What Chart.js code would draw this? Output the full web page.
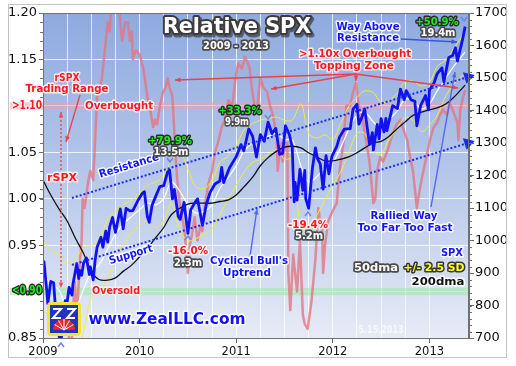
<!DOCTYPE html>
<html>
<head>
<meta charset="utf-8">
<script src="https://cdn.jsdelivr.net/npm/chart.js@4/dist/chart.umd.min.js"></script>
<style>
  html, body { margin: 0; padding: 0; background: #fff; }
  #wrap { width: 516px; height: 366px; }
</style>
</head>
<body>
<div id="wrap"><canvas id="chart" width="516" height="366"></canvas></div>
<script>
// SPX closes (right axis), dates as decimal years
const spxT = [2009.00,2009.01,2009.04,2009.05,2009.08,2009.11,2009.13,2009.15,2009.17,2009.185,2009.21,2009.23,2009.24,2009.27,2009.30,2009.31,2009.35,2009.37,2009.38,2009.40,2009.42,2009.45,2009.48,2009.49,2009.52,2009.54,2009.56,2009.60,2009.62,2009.65,2009.67,2009.69,2009.72,2009.75,2009.80,2009.83,2009.86,2009.90,2009.93,2009.99,
  2010.03,2010.05,2010.08,2010.10,2010.13,2010.17,2010.21,2010.25,2010.29,2010.31,2010.34,2010.36,2010.40,2010.42,2010.46,2010.50,2010.53,2010.57,2010.60,2010.65,2010.69,2010.73,2010.78,2010.83,2010.85,2010.87,2010.93,2011.00,
  2011.05,2011.08,2011.13,2011.17,2011.21,2011.25,2011.29,2011.33,2011.37,2011.41,2011.45,2011.48,2011.51,2011.55,2011.58,2011.60,2011.61,2011.63,2011.66,2011.69,2011.71,2011.72,2011.75,2011.79,2011.82,2011.84,2011.87,2011.90,2011.93,2011.96,2011.99,
  2012.04,2012.07,2012.12,2012.18,2012.21,2012.25,2012.27,2012.30,2012.33,2012.38,2012.41,2012.42,2012.46,2012.48,2012.50,2012.53,2012.55,2012.56,2012.62,2012.67,2012.70,2012.74,2012.76,2012.81,2012.85,2012.87,2012.91,2012.96,2012.99,
  2013.00,2013.05,2013.08,2013.13,2013.15,2013.20,2013.24,2013.27,2013.29,2013.34,2013.37];
const spx = [931,935,842,805,874,870,789,743,700,677,778,815,787,856,832,866,929,883,908,893,931,946,895,919,879,940,979,1010,979,1029,995,1042,1071,1025,1097,1036,1099,1091,1092,1127,
  1146,1150,1074,1056,1109,1138,1166,1169,1211,1217,1128,1157,1074,1065,1117,1022,1095,1115,1128,1047,1110,1148,1174,1183,1225,1178,1223,1258,
  1295,1276,1343,1321,1257,1326,1305,1364,1329,1345,1265,1268,1353,1326,1287,1119,1179,1124,1219,1154,1216,1129,1099,1224,1285,1253,1236,1158,1261,1205,1258,
  1289,1318,1343,1344,1404,1419,1358,1378,1405,1295,1332,1278,1357,1313,1375,1334,1376,1338,1415,1406,1466,1433,1461,1433,1428,1353,1416,1446,1402,
  1462,1486,1513,1531,1488,1563,1569,1593,1552,1614,1658];

// rSPX = SPX relative to its 200dma (left axis)
const rspxT = [2009.00,2009.07,2009.12,2009.19,2009.24,2009.26,2009.28,2009.30,2009.32,2009.33,2009.35,2009.36,2009.38,2009.40,2009.41,2009.43,2009.47,2009.49,2009.52,2009.56,2009.59,2009.61,2009.64,2009.67,2009.69,2009.71,2009.75,2009.78,2009.80,2009.82,2009.85,2009.88,2009.90,2009.92,2009.93,2009.96,
  2010.00,2010.04,2010.06,2010.08,2010.11,2010.14,2010.16,2010.18,2010.21,2010.24,2010.27,2010.29,2010.31,2010.34,2010.35,2010.37,2010.39,2010.42,2010.45,2010.47,2010.50,2010.52,2010.54,2010.57,2010.60,2010.63,2010.65,2010.68,2010.71,2010.75,2010.78,2010.81,2010.85,2010.88,2010.92,2010.96,2010.99,
  2011.02,2011.06,2011.09,2011.12,2011.14,2011.16,2011.19,2011.22,2011.25,2011.28,2011.32,2011.35,2011.38,2011.42,2011.43,2011.45,2011.47,2011.48,2011.51,2011.53,2011.54,2011.56,2011.59,2011.63,2011.66,2011.69,2011.71,2011.74,2011.78,2011.82,2011.84,2011.85,2011.87,2011.89,2011.90,2011.92,2011.95,2011.99,
  2012.04,2012.07,2012.11,2012.14,2012.18,2012.21,2012.24,2012.27,2012.31,2012.34,2012.38,2012.42,2012.44,2012.46,2012.49,2012.52,2012.56,2012.59,2012.62,2012.66,2012.70,2012.73,2012.77,2012.80,2012.83,2012.85,2012.87,2012.90,2012.93,2012.98,
  2013.01,2013.04,2013.08,2013.11,2013.14,2013.18,2013.21,2013.24,2013.29,2013.30,2013.32,2013.35,2013.37];
const rspx = [0.78,0.74,0.72,0.66,0.80,0.84,0.87,0.85,0.90,0.91,0.87,0.89,0.93,0.955,1.00,0.99,1.02,1.03,1.02,1.11,1.12,1.13,1.16,1.19,1.18,1.21,1.22,1.21,1.19,1.17,1.19,1.19,1.17,1.18,1.15,1.16,
  1.155,1.14,1.125,1.11,1.096,1.077,1.085,1.08,1.10,1.114,1.12,1.13,1.12,1.11,1.09,1.05,1.02,0.99,0.975,0.96,0.92,0.95,0.96,0.98,0.955,0.97,0.965,0.995,1.015,1.03,1.05,1.06,1.077,1.085,1.106,1.10,1.128,
  1.146,1.14,1.153,1.146,1.14,1.12,1.10,1.10,1.13,1.12,1.115,1.10,1.09,1.066,1.03,1.05,1.06,1.04,1.06,1.06,0.92,0.88,0.94,0.90,0.955,0.875,0.865,0.86,0.89,0.935,0.97,0.99,0.975,0.965,0.92,0.95,0.975,0.985,
  0.995,1.03,1.06,1.10,1.10,1.115,1.125,1.10,1.085,1.065,1.04,0.995,1.00,1.03,1.045,1.04,1.05,1.06,1.07,1.08,1.085,1.075,1.063,1.045,1.03,1.01,0.99,1.01,1.026,1.05,
  1.065,1.076,1.082,1.09,1.096,1.09,1.103,1.096,1.082,1.063,1.096,1.11,1.117];

// monthly moving averages and +/- 2.5 SD bands (right axis)
const maT = [2009.00,2009.08,2009.17,2009.25,2009.33,2009.42,2009.50,2009.58,2009.67,2009.75,2009.83,2009.92,
  2010.00,2010.08,2010.17,2010.25,2010.33,2010.42,2010.50,2010.58,2010.67,2010.75,2010.83,2010.92,
  2011.00,2011.08,2011.17,2011.25,2011.33,2011.42,2011.50,2011.58,2011.67,2011.75,2011.83,2011.92,
  2012.00,2012.08,2012.17,2012.25,2012.33,2012.42,2012.50,2012.58,2012.67,2012.75,2012.83,2012.92,
  2013.00,2013.08,2013.17,2013.25,2013.33,2013.37];
const dma50 = [890,870,845,790,790,850,905,925,975,1020,1050,1075,
  1095,1115,1110,1130,1180,1150,1110,1085,1090,1110,1160,1195,
  1230,1275,1300,1310,1320,1330,1310,1310,1230,1180,1195,1225,
  1240,1285,1345,1385,1395,1365,1345,1370,1400,1435,1430,1405,
  1420,1460,1500,1535,1565,1580];
const dma200 = [1186,1140,1095,1060,1010,960,905,880,878,885,905,925,
  950,975,1010,1040,1080,1100,1112,1115,1115,1115,1120,1125,
  1140,1165,1195,1230,1255,1275,1287,1290,1285,1270,1258,1245,
  1245,1250,1258,1270,1285,1300,1305,1320,1345,1365,1385,1395,
  1402,1408,1420,1440,1465,1478];
const sdUpper = [1000,970,955,930,940,980,985,1005,1065,1090,1110,1125,
  1145,1170,1180,1200,1245,1270,1220,1165,1160,1185,1240,1260,
  1290,1340,1360,1370,1375,1380,1370,1370,1420,1330,1315,1325,
  1310,1360,1415,1440,1460,1455,1425,1430,1455,1490,1490,1475,
  1485,1535,1555,1590,1625,1650];
const sdLower = [780,770,735,650,640,720,825,845,885,950,990,1025,
  1045,1060,1040,1060,1115,1030,1000,1005,1020,1035,1080,1130,
  1170,1210,1240,1250,1265,1280,1250,1250,1040,1030,1075,1125,
  1170,1210,1275,1330,1330,1275,1265,1310,1345,1380,1370,1335,
  1355,1385,1445,1480,1505,1510];

// trend channel
const trendT = [2009.30, 2013.40];
const resistance = [1131, 1503];
const support = [925, 1300];

const pts = (xs, ys) => xs.map((x, i) => ({x: x, y: ys[i]}));
const isYear = v => Math.abs(v - Math.round(v)) < 1e-6;
const FONT = '"DejaVu Sans", Verdana, sans-serif';

function arrow(ctx, x1, y1, x2, y2, color, lw, dash, both) {
  ctx.save();
  ctx.strokeStyle = color; ctx.fillStyle = color; ctx.lineWidth = lw;
  if (dash) ctx.setLineDash(dash);
  ctx.beginPath(); ctx.moveTo(x1, y1); ctx.lineTo(x2, y2); ctx.stroke();
  ctx.setLineDash([]);
  const head = (ax, ay, bx, by) => {
    const a = Math.atan2(by - ay, bx - ax), h = 6;
    ctx.beginPath();
    ctx.moveTo(bx, by);
    ctx.lineTo(bx - h * Math.cos(a - 0.4), by - h * Math.sin(a - 0.4));
    ctx.lineTo(bx - h * Math.cos(a + 0.4), by - h * Math.sin(a + 0.4));
    ctx.closePath(); ctx.fill();
  };
  head(x1, y1, x2, y2);
  if (both) head(x2, y2, x1, y1);
  ctx.restore();
}

function chevron(ctx, x, y, up) {
  ctx.save();
  ctx.strokeStyle = '#6f82f2'; ctx.lineWidth = 1.5;
  const d = up ? -1 : 1;
  ctx.beginPath();
  ctx.moveTo(x - 3, y - 2 * d); ctx.lineTo(x, y + 2 * d); ctx.lineTo(x + 3, y - 2 * d);
  ctx.stroke();
  ctx.restore();
}

function label(ctx, text, cx, cy, st, w, size, rot) {
  ctx.save();
  ctx.font = 'bold ' + size + 'px ' + FONT;
  ctx.textAlign = 'center';
  ctx.textBaseline = 'middle';
  ctx.lineJoin = 'round';
  ctx.translate(cx, cy);
  if (rot) ctx.rotate(rot * Math.PI / 180);
  ctx.scale(w / ctx.measureText(text).width, 1);
  if (st.shadow) {
    ctx.strokeStyle = st.shadow; ctx.lineWidth = st.lw + 1;
    ctx.strokeText(text, 1.5, 1.5);
  }
  if (st.stroke) {
    ctx.strokeStyle = st.stroke; ctx.lineWidth = st.lw;
    ctx.strokeText(text, 0, 0);
  }
  ctx.fillStyle = st.fill;
  ctx.fillText(text, 0, 0);
  ctx.restore();
}

const RED = {fill: '#f01c24', stroke: 'rgba(255,238,238,0.95)', lw: 3};
const BLUE = {fill: '#1212f2', stroke: 'rgba(255,255,255,0.92)', lw: 3};
const GREEN = {fill: '#22e822', stroke: '#2a2a2a', lw: 3};
const WHITE = {fill: '#ffffff', stroke: '#4a4a4a', lw: 3.5};
const YELLOW = {fill: '#ffff2e', stroke: '#333333', lw: 3};
const BLACK = {fill: '#111111', stroke: '#ffffff', lw: 3};
const TITLE = {fill: '#ffffff', stroke: '#3c3c3c', lw: 4, shadow: 'rgba(40,40,40,0.6)'};

function logo(ctx, x, y, s) {
  ctx.save();
  ctx.fillStyle = '#f4e43a';
  ctx.beginPath();
  if (ctx.roundRect) ctx.roundRect(x, y, s, s, 4); else ctx.rect(x, y, s, s);
  ctx.fill();
  ctx.fillStyle = '#2333bd';
  ctx.fillRect(x + 3, y + 3, s - 6, s - 6);
  ctx.strokeStyle = '#ffffff'; ctx.lineWidth = 2;
  ctx.beginPath();
  ctx.moveTo(x + 6, y + 7); ctx.lineTo(x + 14, y + 7); ctx.lineTo(x + 6, y + 16); ctx.lineTo(x + 14, y + 16);
  ctx.moveTo(x + s - 14, y + 7); ctx.lineTo(x + s - 6, y + 7); ctx.lineTo(x + s - 14, y + 16); ctx.lineTo(x + s - 6, y + 16);
  ctx.stroke();
  const cx = x + s / 2, cy = y + s - 6, r = 11;
  ctx.fillStyle = '#e8262a';
  ctx.beginPath(); ctx.moveTo(cx, cy); ctx.arc(cx, cy, r, Math.PI, 2 * Math.PI); ctx.closePath(); ctx.fill();
  ctx.strokeStyle = '#ffffff'; ctx.lineWidth = 1;
  for (let k = 1; k < 6; k++) {
    const a = Math.PI + k * Math.PI / 6;
    ctx.beginPath(); ctx.moveTo(cx, cy); ctx.lineTo(cx + r * Math.cos(a), cy + r * Math.sin(a)); ctx.stroke();
  }
  ctx.restore();
}

const background = {
  id: 'background',
  beforeDraw(chart) {
    const ctx = chart.ctx, a = chart.chartArea;
    ctx.save();
    ctx.fillStyle = '#ffffff';
    ctx.fillRect(0, 0, chart.width, chart.height);
    const g = ctx.createLinearGradient(0, a.top, 0, a.bottom);
    g.addColorStop(0, '#8eaadf');
    g.addColorStop(0.5, '#b6c7ea');
    g.addColorStop(1, '#e6ebf6');
    ctx.fillStyle = g;
    ctx.fillRect(a.left, a.top, a.right - a.left, a.bottom - a.top);
    ctx.restore();
  },
  beforeDatasetsDraw(chart) {
    const ctx = chart.ctx, a = chart.chartArea, yL = chart.scales.yL;
    ctx.save();
    ctx.fillStyle = 'rgba(236,160,176,0.55)';
    let y1 = yL.getPixelForValue(1.104), y2 = yL.getPixelForValue(1.096);
    ctx.fillRect(10, y1, a.right - 10, y2 - y1);
    ctx.fillStyle = 'rgba(160,232,172,0.6)';
    y1 = yL.getPixelForValue(0.904); y2 = yL.getPixelForValue(0.896);
    ctx.fillRect(10, y1, a.right - 10, y2 - y1);
    ctx.restore();
  }
};

const notes = {
  id: 'notes',
  afterDraw(chart) {
    const ctx = chart.ctx, a = chart.chartArea;
    const yL = chart.scales.yL, yR = chart.scales.yR;
    ctx.save();
    ctx.strokeStyle = '#c4c4c4'; ctx.lineWidth = 1;
    ctx.strokeRect(8.5, 4.5, 498, 353);
    ctx.strokeStyle = '#707070';
    ctx.strokeRect(a.left + 0.5, a.top + 0.5, a.right - a.left - 1, a.bottom - a.top);
    ctx.beginPath();
    for (let v = 85; v <= 120; v++) {
      const y = Math.round(yL.getPixelForValue(v / 100)) + 0.5;
      ctx.moveTo(a.left - 3, y); ctx.lineTo(a.left, y);
    }
    for (let v = 700; v <= 1700; v += 20) {
      const y = Math.round(yR.getPixelForValue(v)) + 0.5;
      ctx.moveTo(a.right, y); ctx.lineTo(a.right + 3, y);
    }
    ctx.stroke();
    ctx.restore();

    // arrows
    arrow(ctx, 61, 112, 61, 288, '#e8505c', 1.5, [2, 2], true);
    arrow(ctx, 80, 95, 66, 142, '#e8424f', 1.3);
    arrow(ctx, 356, 74, 175, 80, '#e8424f', 1.3);
    arrow(ctx, 356, 74, 271, 89, '#e8424f', 1.3);
    arrow(ctx, 356, 74, 458, 88, '#e8424f', 1.3);
    arrow(ctx, 356, 72, 356, 81, '#e8424f', 1.3);
    arrow(ctx, 401, 39, 457, 42, '#3d50f0', 1.4);
    arrow(ctx, 431, 207, 455, 72, '#5566ee', 1.4);
    arrow(ctx, 250, 256, 257, 209, '#5566ee', 1.4);

    chevron(ctx, 61, 345, true);
    chevron(ctx, 170, 160, false);
    chevron(ctx, 188, 238, true);
    chevron(ctx, 268, 117, false);
    chevron(ctx, 308, 214, true);
    chevron(ctx, 464, 19, false);

    // axis special labels
    label(ctx, '>1.10', 27, 106, RED, 30, 12);
    label(ctx, '<0.90', 27, 291, GREEN, 30, 12);

    // title
    label(ctx, 'Relative SPX', 237, 28, TITLE, 148, 21);
    label(ctx, '2009 - 2013', 236, 46, WHITE, 66, 10);

    label(ctx, 'rSPX', 67, 78, RED, 25, 11);
    label(ctx, 'Trading Range', 67, 89, RED, 83, 11);
    label(ctx, 'Overbought', 119, 106, RED, 68, 11);
    label(ctx, 'rSPX', 62, 178, RED, 30, 11);
    label(ctx, 'Oversold', 116, 291, RED, 48, 11);
    label(ctx, 'Resistance', 129, 166, BLUE, 62, 11, -17);
    label(ctx, 'Support', 131, 255, BLUE, 45, 11, -17);

    label(ctx, '+79.9%', 170, 141, GREEN, 44, 11);
    label(ctx, '13.5m', 171, 152, WHITE, 35, 11);
    label(ctx, '+33.3%', 240, 111, GREEN, 43, 11);
    label(ctx, '9.9m', 237, 122, WHITE, 24, 11);
    label(ctx, '-16.0%', 188, 251, RED, 40, 11);
    label(ctx, '2.3m', 188, 263, WHITE, 28, 11);
    label(ctx, '-19.4%', 308, 225, RED, 40, 11);
    label(ctx, '5.2m', 309, 236, WHITE, 28, 11);
    label(ctx, '+50.9%', 437, 22, GREEN, 43, 11);
    label(ctx, '19.4m', 438, 33, WHITE, 35, 11);

    label(ctx, 'Way Above', 368, 27, BLUE, 63, 11);
    label(ctx, 'Resistance', 368, 38, BLUE, 62, 11);
    label(ctx, '>1.10x Overbought', 355, 54, RED, 112, 11);
    label(ctx, 'Topping Zone', 354, 66, RED, 80, 11);
    label(ctx, "Cyclical Bull's", 249, 261, BLUE, 78, 11);
    label(ctx, 'Uptrend', 247, 273, BLUE, 48, 11);
    label(ctx, 'Rallied Way', 404, 216, BLUE, 67, 11);
    label(ctx, 'Too Far Too Fast', 405, 228, BLUE, 95, 11);

    label(ctx, 'SPX', 452, 253, BLUE, 22, 11);
    label(ctx, '50dma', 376, 268, WHITE, 44, 11);
    label(ctx, '+/- 2.5 SD', 434, 268, YELLOW, 61, 11);
    label(ctx, '200dma', 438, 282, BLACK, 53, 11);
    label(ctx, '5.15.2013', 381, 330, {fill: 'rgba(255,255,255,0.7)'}, 45, 10);

    logo(ctx, 47, 302, 34);
    label(ctx, 'www.ZealLLC.com', 167, 320, BLUE, 157, 16);
  }
};

const line = (label, data, axis, color, width, order, extra) => Object.assign({
  label: label, data: data, yAxisID: axis, borderColor: color, backgroundColor: color,
  borderWidth: width, pointRadius: 0, tension: 0, order: order, borderJoinStyle: 'round'
}, extra || {});

const trendPoint = {pointRadius: [0, 5], pointStyle: 'triangle', pointRotation: 73, borderDash: [2, 2], clip: false};

new Chart(document.getElementById('chart'), {
  type: 'line',
  data: {
    datasets: [
      line('rSPX', pts(rspxT, rspx), 'yL', 'rgba(228,118,130,0.8)', 2.5, 8),
      line('+2.5 SD', pts(maT, sdUpper), 'yR', '#eeee3c', 1, 7, {tension: 0.35}),
      line('-2.5 SD', pts(maT, sdLower), 'yR', '#eeee3c', 1, 7, {tension: 0.35}),
      line('50dma', pts(maT, dma50), 'yR', '#ffffff', 1.2, 6, {tension: 0.35}),
      line('200dma', pts(maT, dma200), 'yR', '#111111', 1.3, 5, {tension: 0.35}),
      line('SPX', pts(spxT, spx), 'yR', '#1010f0', 2.8, 4),
      line('Resistance', pts(trendT, resistance), 'yR', '#1a2cf0', 2, 2, trendPoint),
      line('Support', pts(trendT, support), 'yR', '#1a2cf0', 2, 2, trendPoint)
    ]
  },
  options: {
    responsive: false,
    animation: false,
    events: [],
    devicePixelRatio: 1,
    layout: {padding: {top: 13, left: 0, right: 0, bottom: 0}},
    plugins: {legend: {display: false}, tooltip: {enabled: false}},
    scales: {
      x: {
        type: 'linear', min: 2009, max: 2013.41,
        afterFit: s => { s.height = 28; },
        ticks: {
          stepSize: 0.25, autoSkip: false, maxRotation: 0, padding: 2,
          color: '#111', font: {family: FONT, size: 11.5},
          callback: v => isYear(v) ? String(Math.round(v)) : ''
        },
        grid: {
          color: 'rgba(255,255,255,0.75)', lineWidth: 1, tickLength: 5,
          tickColor: c => (c.tick && isYear(c.tick.value)) ? '#666' : 'rgba(0,0,0,0)'
        },
        border: {display: true, color: '#707070'}
      },
      yL: {
        type: 'linear', position: 'left', min: 0.85, max: 1.20,
        afterFit: s => { s.width = 43; },
        ticks: {
          stepSize: 0.05, padding: 2, color: '#111', font: {family: FONT, size: 13},
          callback: v => (Math.abs(v - 1.1) < 1e-6 || Math.abs(v - 0.9) < 1e-6) ? '' : v.toFixed(2)
        },
        grid: {color: 'rgba(255,255,255,0.8)', tickLength: 4, tickColor: '#666'},
        border: {display: true, color: '#707070'}
      },
      yR: {
        type: 'linear', position: 'right', min: 700, max: 1700,
        afterFit: s => { s.width = 47; },
        ticks: {
          stepSize: 100, padding: 1, color: '#111', font: {family: FONT, size: 13},
          callback: v => String(Math.round(v))
        },
        grid: {drawOnChartArea: false, tickLength: 5, tickColor: '#666'},
        border: {display: true, color: '#707070'}
      }
    }
  },
  plugins: [background, notes]
});
</script>
</body>
</html>
